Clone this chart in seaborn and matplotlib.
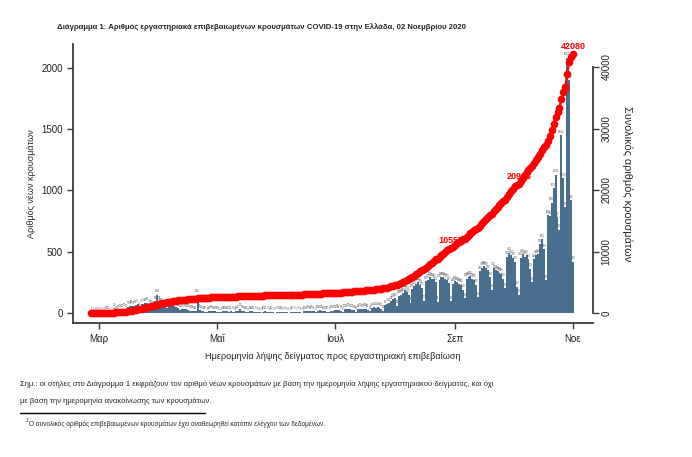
import matplotlib
matplotlib.use("Agg")
import matplotlib.pyplot as plt
import matplotlib.dates as mdates
from matplotlib.lines import Line2D
import seaborn as sns
import numpy as np
import pandas as pd

# daily new cases by sample date, 26 Feb 2020 -> 1 Nov 2020
start_date = "2020-02-26"
cases_feb = [1, 1, 1, 0]
cases_mar = [0, 2, 3, 1, 12, 10, 7,
             3, 40, 15, 20, 25, 30, 35,
             25, 50, 55, 60, 55, 65, 70,
             45, 70, 75, 80, 85, 70, 65,
             55, 95, 150]
cases_apr = [90, 80, 75, 60,
             40, 65, 70, 60, 55, 45, 40,
             25, 30, 35, 30, 25, 20, 18,
             12, 15, 150, 25, 20, 15, 10,
             8, 15, 18, 14, 12]
cases_may = [10, 8, 4, 12, 15, 14, 11,
             12, 9, 5, 16, 20, 35, 18,
             14, 10, 4, 12, 14, 10, 9,
             8, 6, 3, 10, 12, 9, 8,
             10, 7, 3]
cases_jun = [9, 11, 10, 8,
             9, 6, 2, 8, 10, 9, 7,
             9, 6, 3, 12, 14, 18, 15,
             20, 14, 6, 18, 22, 20, 16,
             15, 10, 5, 18, 20]
cases_jul = [22, 25, 24, 18,
             8, 30, 32, 35, 30, 28, 22,
             10, 32, 35, 30, 36, 34, 25,
             12, 40, 45, 42, 48, 44, 35,
             20, 65, 75, 80, 95, 110]
cases_aug = [120,
             60, 140, 150, 160, 190, 175, 150,
             85, 195, 220, 240, 250, 230, 205,
             100, 260, 270, 290, 280, 275, 250,
             90, 270, 290, 290, 280, 270, 247,
             95, 240]
cases_sep = [260, 250, 240, 230, 190, 120,
             280, 290, 300, 280, 270, 230, 130,
             340, 370, 380, 370, 350, 290, 190,
             370, 350, 340, 330, 320, 280, 200,
             460, 490, 470]
cases_oct = [450, 420, 213, 150,
             450, 480, 460, 470, 440, 360, 250,
             440, 470, 480, 560, 600, 520, 268,
             800, 790, 900, 1017, 1130, 782, 678,
             1452, 1100, 863, 2082, 1900, 920]
cases_nov = [420]

daily_cases = (cases_feb + cases_mar + cases_apr + cases_may + cases_jun
               + cases_jul + cases_aug + cases_sep + cases_oct + cases_nov)

label_dates = ["2020-08-30", "2020-10-04", "2020-11-01"]
tick_dates = ["2020-03-01", "2020-05-01", "2020-07-01", "2020-09-01", "2020-11-01"]
tick_labels = ["Μαρ", "Μαΐ", "Ιουλ", "Σεπ", "Νοε"]

bar_color = "#4a6e8e"
spine_color = "#3a3a3a"

dates = pd.date_range(start_date, periods=len(daily_cases), freq="D")
df = pd.DataFrame({"day": mdates.date2num(dates), "cases": daily_cases})
df["total"] = np.cumsum(df["cases"])

sns.set_style("white")
plt.rcParams["font.family"] = ["Liberation Sans", "DejaVu Sans"]

fig = plt.figure(figsize=(6.92, 4.57), dpi=100)
ax = fig.add_axes([73 / 692, 1 - 323 / 457, 520 / 692, 279 / 457])

sns.barplot(data=df, x="day", y="cases", native_scale=True, color=bar_color,
            saturation=1, width=1.0, errorbar=None, linewidth=0, ax=ax)
for d, v in zip(df["day"], df["cases"]):
    ax.text(d, v + 12, str(v), fontsize=2, ha="center", va="bottom", color="#505050")

ax2 = ax.twinx()
sns.lineplot(data=df, x="day", y="total", ax=ax2, color="red", marker="o",
             markersize=5.5, markeredgewidth=0, linewidth=1.6, zorder=3)
for ld in label_dates:
    row = df[df["day"] == mdates.date2num(pd.Timestamp(ld))].iloc[0]
    ax2.annotate(str(int(row["total"])), (row["day"], row["total"]), xytext=(0, 2),
                 textcoords="offset points", ha="center", va="bottom", color="red",
                 fontweight="bold", fontsize=6.5, zorder=1)

mar1 = mdates.date2num(pd.Timestamp("2020-03-01"))
ax.set_xlim(mar1 - 13.44, mar1 + 255.34)
ax.set_xticks(mdates.date2num(pd.to_datetime(tick_dates)))
ax.set_xticklabels(tick_labels)
ax.set_ylim(-82, 2196)
ax.set_yticks([0, 500, 1000, 1500, 2000])
ax2.set_ylim(-1626, 43740)
ax2.set_yticks([0, 10000, 20000, 30000, 40000])

for s in ["top", "right"]:
    ax.spines[s].set_visible(False)
for s in ["left", "bottom"]:
    ax.spines[s].set_color(spine_color)
    ax.spines[s].set_linewidth(1.3)
for s in ["top", "left", "bottom"]:
    ax2.spines[s].set_visible(False)
ax2.spines["right"].set_color(spine_color)
ax2.spines["right"].set_linewidth(1.3)
ax2.spines["right"].set_bounds(0, 40000)

ax.tick_params(axis="both", bottom=True, left=True, direction="out", length=4,
               width=1, color=spine_color, labelsize=7, labelcolor="#222222")
ax.tick_params(axis="x", pad=4)
ax2.tick_params(axis="y", right=True, direction="out", length=4, width=1,
                color=spine_color, labelsize=7, labelcolor="#222222", labelrotation=90, pad=2)
for lab in ax2.get_yticklabels():
    lab.set_va("center")

ax.set_xlabel("Ημερομηνία λήψης δείγματος προς εργαστηριακή επιβεβαίωση", fontsize=6.6, labelpad=6)
ax.set_ylabel("Αριθμός νέων κρουσμάτων", fontsize=6.5, labelpad=4)
ax2.set_ylabel("Συνολικός αριθμός κρουσμάτων", fontsize=7.8, rotation=270, labelpad=15)

fig.text(57 / 692, 1 - 27 / 457,
         "Διάγραμμα 1: Αριθμός εργαστηριακά επιβεβαιωμένων κρουσμάτων COVID-19 στην Ελλάδα, 02 Νοεμβρίου 2020",
         fontsize=5.6, fontweight="bold", va="center")

fig.text(20 / 692, 1 - 384 / 457,
         "Σημ.: οι στήλες στο Διάγραμμα 1 εκφράζουν τον αριθμό νέων κρουσμάτων με βάση την ημερομηνία λήψης εργαστηριακού δείγματος, και όχι",
         fontsize=5.5, va="center")
fig.text(20 / 692, 1 - 401 / 457, "με βάση την ημερομηνία ανακοίνωσης των κρουσμάτων.",
         fontsize=5.5, va="center")
fig.add_artist(Line2D([20 / 692, 205 / 692], [1 - 413 / 457, 1 - 413 / 457], color="black", lw=1))
fig.text(26 / 692, 1 - 421 / 457, "1", fontsize=3.5, va="center")
fig.text(29 / 692, 1 - 424 / 457,
         "Ο συνολικός αριθμός επιβεβαιωμένων κρουσμάτων έχει αναθεωρηθεί κατόπιν ελέγχου των δεδομένων.",
         fontsize=4.7, va="center")

fig.savefig("out.png", dpi=100)
